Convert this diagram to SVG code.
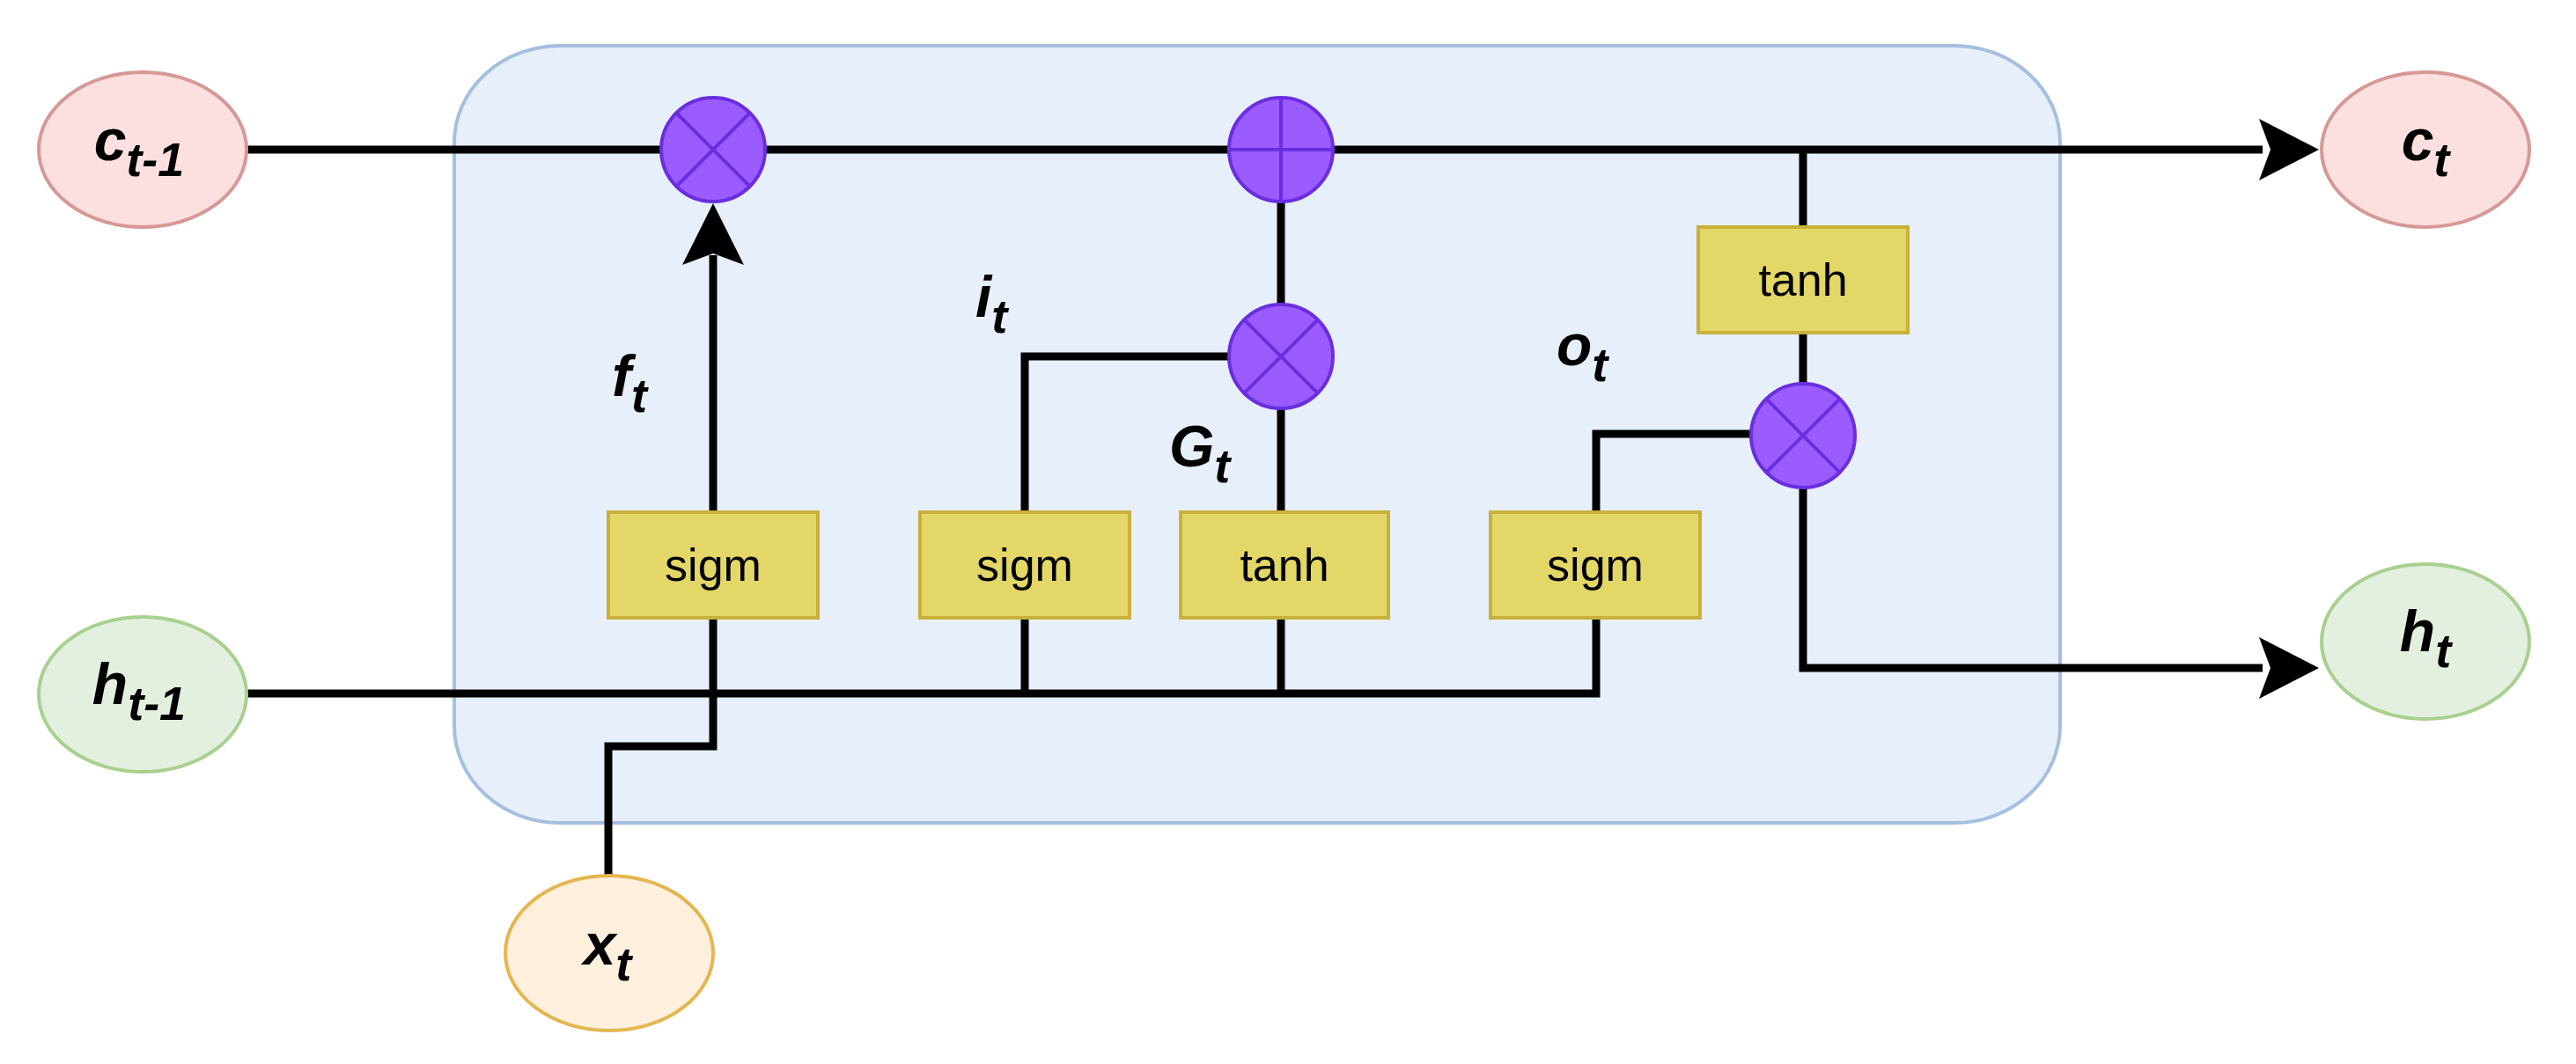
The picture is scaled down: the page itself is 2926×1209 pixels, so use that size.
<svg xmlns="http://www.w3.org/2000/svg" width="2926" height="1209" viewBox="0 0 2926 1209">
<style>
.ln{fill:none;stroke:#000;stroke-width:9;stroke-linejoin:miter}
.box{fill:#e3d767;stroke:#c8b03a;stroke-width:4}
.op{fill:#9b5cff;stroke:#6a2ee0;stroke-width:4}
.opl{stroke:#6a2ee0;stroke-width:4}
.bt{font-family:"Liberation Sans",Arial,sans-serif;font-size:52px;text-anchor:middle;fill:#000}
.lb{font-family:"Liberation Sans",Arial,sans-serif;font-size:66px;font-weight:bold;font-style:italic;fill:#000}
.sb{font-size:54px}
</style>
<rect id="cell" x="516" y="52" width="1824" height="883" rx="120" ry="110" fill="#e7effa" stroke="#a6bfe0" stroke-width="4"/>
<g id="connectors">
<path class="ln" d="M280 170H2570"/>
<path class="ln" d="M280 788H1813V702"/>
<path class="ln" d="M810 702V848H691V995"/>
<path class="ln" d="M810 582V290"/>
<path class="ln" d="M1164 788V702M1164 582V405H1395"/>
<path class="ln" d="M1455 788V702M1455 582V465M1455 345V230"/>
<path class="ln" d="M1813 582V493H1990"/>
<path class="ln" d="M2048 170V258M2048 378V436M2048 554V759H2570"/>
<path d="M810 231L845 301L810 288L775 301Z" fill="#000"/>
<path d="M2634 170L2566 135L2579 170L2566 205Z" fill="#000"/>
<path d="M2634 759L2566 724L2579 759L2566 794Z" fill="#000"/>
</g>
<g id="c_prev"><ellipse cx="162" cy="170" rx="118" ry="88" fill="#fbe0df" stroke="#d69896" stroke-width="4"/><text class="lb" x="158" y="182" text-anchor="middle">c<tspan class="sb" dy="18">t-1</tspan></text></g>
<g id="h_prev"><ellipse cx="162" cy="789" rx="118" ry="88" fill="#e3efdf" stroke="#a8d08f" stroke-width="4"/><text class="lb" x="158" y="800" text-anchor="middle">h<tspan class="sb" dy="18">t-1</tspan></text></g>
<g id="x_t"><ellipse cx="692" cy="1083" rx="118" ry="88" fill="#fff0de" stroke="#e4b64f" stroke-width="4"/><text class="lb" x="690" y="1096" text-anchor="middle">x<tspan class="sb" dy="18">t</tspan></text></g>
<g id="c_t"><ellipse cx="2755" cy="170" rx="118" ry="88" fill="#fbe0df" stroke="#d69896" stroke-width="4"/><text class="lb" x="2755" y="182" text-anchor="middle">c<tspan class="sb" dy="18">t</tspan></text></g>
<g id="h_t"><ellipse cx="2755" cy="729" rx="118" ry="88" fill="#e3efdf" stroke="#a8d08f" stroke-width="4"/><text class="lb" x="2755" y="740" text-anchor="middle">h<tspan class="sb" dy="18">t</tspan></text></g>
<g id="mul_f"><ellipse class="op" cx="810" cy="170" rx="59" ry="59"/><path class="opl" d="M768 128L852 212M852 128L768 212"/></g>
<g id="add_c"><ellipse class="op" cx="1455" cy="170" rx="59" ry="59"/><path class="opl" d="M1396 170H1514M1455 111V229"/></g>
<g id="mul_i"><ellipse class="op" cx="1455" cy="405" rx="59" ry="59"/><path class="opl" d="M1413 363L1497 447M1497 363L1413 447"/></g>
<g id="mul_o"><ellipse class="op" cx="2048" cy="495" rx="59" ry="59"/><path class="opl" d="M2006 453L2090 537M2090 453L2006 537"/></g>
<g id="sigm_f"><rect class="box" x="691" y="582" width="238" height="120"/><text class="bt" x="810" y="660">sigm</text></g>
<g id="sigm_i"><rect class="box" x="1045" y="582" width="238" height="120"/><text class="bt" x="1164" y="660">sigm</text></g>
<g id="tanh_g"><rect class="box" x="1341" y="582" width="236" height="120"/><text class="bt" x="1459" y="660">tanh</text></g>
<g id="sigm_o"><rect class="box" x="1693" y="582" width="238" height="120"/><text class="bt" x="1812" y="660">sigm</text></g>
<g id="tanh_c"><rect class="box" x="1929" y="258" width="238" height="120"/><text class="bt" x="2048" y="336">tanh</text></g>
<g id="labels">
<text class="lb" x="695" y="450">f<tspan class="sb" dy="18">t</tspan></text>
<text class="lb" x="1108" y="360">i<tspan class="sb" dy="18">t</tspan></text>
<text class="lb" x="1328" y="530">G<tspan class="sb" dy="18">t</tspan></text>
<text class="lb" x="1768" y="415">o<tspan class="sb" dy="18">t</tspan></text>
</g>
</svg>
